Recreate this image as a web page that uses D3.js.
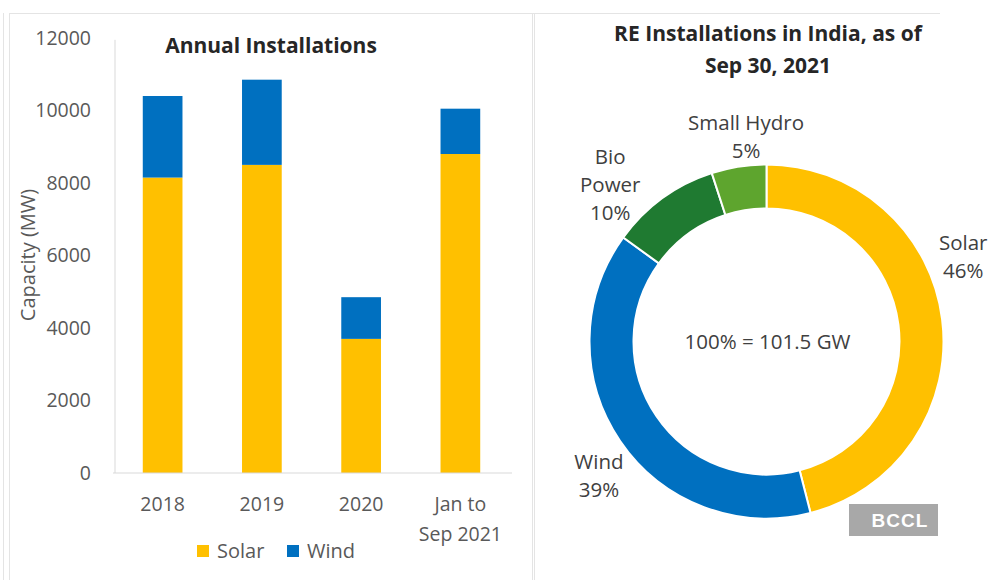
<!DOCTYPE html>
<html>
<head>
<meta charset="utf-8">
<script src="https://cdn.jsdelivr.net/npm/d3@7"></script>
<style>
  html, body { margin: 0; padding: 0; background: #fff; }
  svg { display: block; }
  text { font-family: "Open Sans", "Noto Sans", sans-serif; }
</style>
</head>
<body>
<svg id="chart" width="988" height="580"></svg>
<script>
// ---- Annual installations (MW) ----
const years = ["2018", "2019", "2020", "Jan to Sep 2021"];
const solarMW = [8150, 8500, 3700, 8800];
const windMW = [2250, 2350, 1150, 1250];
const yTicks = [0, 2000, 4000, 6000, 8000, 10000, 12000];

// ---- Cumulative RE mix as of Sep 30, 2021 (%) ----
const sources = ["Solar", "Wind", "Bio Power", "Small Hydro"];
const shares = [46, 39, 10, 5];
const totalLabel = "100% = 101.5 GW";

const colors = {
  "Solar": "#FFC000",
  "Wind": "#0070C0",
  "Bio Power": "#1F7A31",
  "Small Hydro": "#5EA52E"
};

const svg = d3.select("#chart");
svg.append("rect").attr("width", 988).attr("height", 580).attr("fill", "#fff");

// panel frame lines
const frame = svg.append("g").attr("stroke", "#e4e4e4").attr("stroke-width", 1);
frame.append("line").attr("x1", 3.5).attr("x2", 3.5).attr("y1", 13).attr("y2", 580);
frame.append("line").attr("x1", 9.5).attr("x2", 9.5).attr("y1", 13).attr("y2", 580);
frame.append("line").attr("x1", 9).attr("x2", 940).attr("y1", 13.5).attr("y2", 13.5);
frame.append("line").attr("x1", 532.5).attr("x2", 532.5).attr("y1", 13).attr("y2", 580);
frame.append("line").attr("x1", 534.5).attr("x2", 534.5).attr("y1", 13).attr("y2", 580);

// ================= Left: stacked bars =================
const barData = years.map((y, i) => ({ year: y, Solar: solarMW[i], Wind: windMW[i] }));
const stack = d3.stack().keys(["Solar", "Wind"]);
const series = stack(barData);

const x = d3.scaleBand().domain(years).range([113, 510]).paddingInner(0.6).paddingOuter(0.3);
const y = d3.scaleLinear().domain([0, 12000]).range([473, 38]);

const left = svg.append("g");

left.append("g")
  .selectAll("g")
  .data(series)
  .join("g")
  .attr("fill", d => colors[d.key])
  .selectAll("rect")
  .data(d => d)
  .join("rect")
  .attr("x", d => x(d.data.year))
  .attr("width", x.bandwidth())
  .attr("y", d => y(d[1]))
  .attr("height", d => y(d[0]) - y(d[1]));

const tickFont = 19.5;

// y axis
const yAxis = d3.axisLeft(y).tickValues(yTicks).tickSize(0).tickPadding(24).tickFormat(d3.format("d"));
const yg = left.append("g").attr("transform", "translate(115,0)").call(yAxis);
yg.select(".domain").attr("stroke", "#d9d9d9").attr("d", `M0,${y(11950)}V${y(0)}`);
yg.selectAll("text").attr("fill", "#595959").attr("font-size", tickFont).attr("font-family", "\"Open Sans\", sans-serif");

// x axis
const xAxis = d3.axisBottom(x).tickSize(0).tickPadding(0);
const xg = left.append("g").attr("transform", `translate(0,${y(0)})`).call(xAxis);
xg.select(".domain").attr("stroke", "#d9d9d9").attr("d", "M113,0H512");
xg.selectAll(".tick text").each(function (d) {
  const t = d3.select(this);
  t.text(null).attr("fill", "#595959").attr("font-size", tickFont).attr("font-family", "\"Open Sans\", sans-serif").attr("dy", null);
  const parts = d === "Jan to Sep 2021" ? ["Jan to", "Sep 2021"] : [d];
  parts.forEach((p, i) => t.append("tspan").attr("x", 0).attr("y", 38 + i * 30).text(p));
});

// y axis title
left.append("text")
  .attr("transform", `translate(35,255) rotate(-90)`)
  .attr("text-anchor", "middle")
  .attr("fill", "#595959")
  .attr("font-size", 20)
  .text("Capacity (MW)");

// chart title
left.append("text")
  .attr("x", 271).attr("y", 53)
  .attr("text-anchor", "middle")
  .attr("font-weight", 700)
  .attr("font-size", 21)
  .attr("fill", "#262626")
  .text("Annual Installations");

// legend
const legend = left.append("g").attr("transform", "translate(197,551)");
const legendItems = [["Solar", 0], ["Wind", 90]];
legendItems.forEach(([k, dx]) => {
  const g = legend.append("g").attr("transform", `translate(${dx},0)`);
  g.append("rect").attr("x", 0).attr("y", -6).attr("width", 12).attr("height", 12).attr("fill", colors[k]);
  g.append("text").attr("x", 20).attr("y", 7).attr("font-size", 20).attr("fill", "#595959").text(k);
});

// ================= Right: donut =================
const cx = 766.5, cy = 341.5;
const pieData = sources.map((s, i) => ({ name: s, value: shares[i] }));
const pie = d3.pie().sort(null).value(d => d.value).startAngle(0).endAngle(2 * Math.PI);
const arc = d3.arc().innerRadius(133).outerRadius(177);
const arcs = pie(pieData);

const right = svg.append("g").attr("transform", `translate(${cx},${cy})`);
right.selectAll("path")
  .data(arcs)
  .join("path")
  .attr("d", arc)
  .attr("fill", d => colors[d.data.name])
  .attr("stroke", "#fff")
  .attr("stroke-width", 2);

// label placement: polar offsets (degrees, px) from each slice's mid-angle
const labelLayout = {
  "Solar": { turn: -16, r: 214, lines: ["Solar"] },
  "Wind": { turn: -4.6, r: 215, lines: ["Wind"] },
  "Bio Power": { turn: -9, r: 221, lines: ["Bio", "Power"] },
  "Small Hydro": { turn: 3.3, r: 206, lines: ["Small Hydro"] }
};
const labelFont = 20.5;
const lineH = 28;
arcs.forEach(a => {
  const lay = labelLayout[a.data.name];
  const mid = (a.startAngle + a.endAngle) / 2 + lay.turn * Math.PI / 180;
  const lx = Math.sin(mid) * lay.r;
  const ly = -Math.cos(mid) * lay.r;
  const lines = lay.lines.concat([a.data.value + "%"]);
  const top = ly - (lines.length - 1) * lineH / 2;
  const t = right.append("text")
    .attr("text-anchor", "middle")
    .attr("fill", "#404040")
    .attr("font-size", labelFont);
  lines.forEach((ln, i) => t.append("tspan").attr("x", lx).attr("y", top + i * lineH + 7).text(ln));
});

right.append("text")
  .attr("x", 1).attr("y", 7)
  .attr("text-anchor", "middle")
  .attr("fill", "#404040")
  .attr("font-size", labelFont)
  .text(totalLabel);

// title
const rt = svg.append("text")
  .attr("text-anchor", "middle")
  .attr("font-weight", 700)
  .attr("font-size", 21)
  .attr("fill", "#262626");
rt.append("tspan").attr("x", 768).attr("y", 41).text("RE Installations in India, as of");
rt.append("tspan").attr("x", 768).attr("y", 73).text("Sep 30, 2021");

// watermark
const wm = svg.append("g").attr("transform", "translate(849,504)");
wm.append("rect").attr("width", 89).attr("height", 32).attr("fill", "#a8a8a8");
wm.append("text").attr("x", 51).attr("y", 23).attr("text-anchor", "middle")
  .attr("fill", "#fff").attr("font-weight", 700).attr("font-size", 19)
  .attr("letter-spacing", 1)
  .style("font-family", "\"Liberation Sans\", Arial, sans-serif")
  .text("BCCL");
</script>
</body>
</html>
